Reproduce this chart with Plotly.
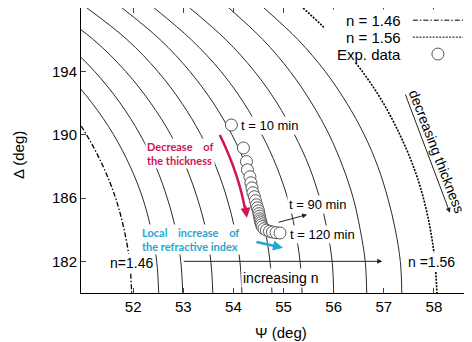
import plotly.graph_objects as go

# ---- data ----
delta_levels = [198, 196, 194, 192, 190, 188, 186, 184, 182, 180]

# iso curves (solid), Psi values at the Delta levels above
psi_c1 = [48.85, 49.90, 50.63, 51.18, 51.61, 51.94, 52.19, 52.36, 52.47, 52.51]
psi_c2 = [49.68, 50.57, 51.23, 51.74, 52.14, 52.45, 52.68, 52.85, 52.95, 52.99]
psi_c3 = [50.35, 51.21, 51.85, 52.35, 52.75, 53.05, 53.28, 53.45, 53.55, 53.59]
psi_c4 = [51.08, 51.88, 52.49, 52.97, 53.35, 53.65, 53.87, 54.03, 54.13, 54.17]
psi_c5 = [51.78, 52.54, 53.13, 53.60, 53.97, 54.26, 54.48, 54.63, 54.73, 54.77]
psi_c6 = [52.42, 53.16, 53.75, 54.21, 54.57, 54.86, 55.08, 55.23, 55.33, 55.37]
psi_c7 = [53.13, 53.85, 54.42, 54.87, 55.22, 55.51, 55.72, 55.87, 55.97, 56.00]
psi_c8 = [53.91, 54.59, 55.13, 55.56, 55.91, 56.18, 56.39, 56.53, 56.63, 56.66]
psi_c9 = [54.61, 55.29, 55.83, 56.26, 56.61, 56.88, 57.08, 57.23, 57.33, 57.36]
solid_curves = [psi_c1, psi_c2, psi_c3, psi_c4, psi_c5, psi_c6, psi_c7, psi_c8, psi_c9]

# n = 1.46 and n = 1.56 curves
psi_n146 = [48.35, 49.37, 50.10, 50.65, 51.07, 51.40, 51.65, 51.82, 51.93, 51.97]
psi_n156 = [55.39, 56.05, 56.57, 56.99, 57.32, 57.59, 57.79, 57.93, 58.02, 58.06]

# experimental data (t = 10 ... 120 min)
psi_exp = [53.96, 54.20, 54.26, 54.28, 54.33, 54.35, 54.37, 54.39, 54.42, 54.44,
           54.46, 54.48, 54.50, 54.51, 54.52, 54.53, 54.54, 54.55, 54.56, 54.58,
           54.61, 54.66, 54.72, 54.78, 54.85, 54.93]
delta_exp = [190.61, 189.16, 188.30, 187.78, 187.34, 186.96, 186.64, 186.33, 186.08, 185.83,
             185.57, 185.38, 185.19, 185.01, 184.85, 184.69, 184.56, 184.44, 184.31, 184.19,
             184.06, 183.97, 183.90, 183.85, 183.81, 183.79]

x_ticks = [52, 53, 54, 55, 56, 57, 58]
y_ticks = [182, 186, 190, 194]

FONT = "Liberation Sans, Arial, sans-serif"
RED = "#cf1458"
CYAN = "#1fa8d2"

fig = go.Figure()
for c in solid_curves:
    fig.add_trace(go.Scatter(x=c, y=delta_levels, mode="lines",
                             line=dict(color="#2a2a2a", width=1, shape="spline"),
                             showlegend=False, hoverinfo="skip"))
fig.add_trace(go.Scatter(x=psi_n146, y=delta_levels, mode="lines",
                         line=dict(color="black", width=1.3, dash="5px,2px,1.5px,2px", shape="spline"),
                         showlegend=False))
fig.add_trace(go.Scatter(x=psi_n156, y=delta_levels, mode="lines",
                         line=dict(color="black", width=1.6, dash="2px,1.3px", shape="spline"),
                         showlegend=False))
fig.add_trace(go.Scatter(x=psi_exp, y=delta_exp, mode="markers",
                         marker=dict(symbol="circle", size=12, color="white",
                                     line=dict(color="#555555", width=1)),
                         showlegend=False))

shapes = []
# legend box
shapes.append(dict(type="rect", xref="x", yref="y", x0=55.81, x1=59.2, y0=194.58, y1=197.9,
                   fillcolor="white", line=dict(width=0), layer="above"))
shapes.append(dict(type="line", xref="x", yref="y", x0=57.58, x1=58.58, y0=197.23, y1=197.23,
                   line=dict(color="black", width=1, dash="5px,2px,1.5px,2px"), layer="above"))
shapes.append(dict(type="line", xref="x", yref="y", x0=57.58, x1=58.58, y0=196.16, y1=196.16,
                   line=dict(color="black", width=1, dash="2px,1.3px"), layer="above"))
shapes.append(dict(type="circle", xref="x", yref="y", xsizemode="pixel", ysizemode="pixel",
                   xanchor=58.08, yanchor=195.09, x0=-6, x1=6, y0=-6, y1=6,
                   fillcolor="white", line=dict(color="#555555", width=1), layer="above"))
# red curved arrow body
shapes.append(dict(type="path", xref="x", yref="y",
                   path="M 53.73,189.98 Q 54.14,187.30 54.25,184.95",
                   line=dict(color=RED, width=2.5), layer="above"))

ann = []
def txt(x, y, s, size=13, color="black", angle=0, family=FONT, bg="white", xanchor="center", align="center"):
    ann.append(dict(x=x, y=y, xref="x", yref="y", text=s, showarrow=False,
                    font=dict(family=family, size=size, color=color), textangle=angle,
                    bgcolor=bg, borderpad=1, xanchor=xanchor, yanchor="middle", align=align))

txt(54.73, 190.61, "t = 10 min", 13)
txt(55.68, 185.57, "t = 90 min", 13)
txt(55.77, 183.68, "t = 120 min", 13)
txt(54.94, 180.97, "increasing n", 14)
txt(51.96, 181.90, "n=1.46", 14)
txt(57.95, 181.98, "n =1.56", 14)
txt(58.06, 188.91, "decreasing thickness", 14, angle=69, bg="rgba(0,0,0,0)")
txt(52.94, 188.79, "<b>Decrease\u00a0\u00a0\u00a0\u00a0of<br>the thickness</b>", 11, RED, family="Lato", align="left")
txt(53.14, 183.40, "<b>Local\u00a0\u00a0\u00a0\u00a0increase\u00a0\u00a0\u00a0\u00a0of<br>the refractive index</b>", 11, CYAN, family="Lato", align="left")
# legend texts
for yy, s in [(197.23, "n = 1.46"), (196.16, "n = 1.56"), (195.09, "Exp. data")]:
    ann.append(dict(x=57.38, y=yy, xref="x", yref="y", text=s, showarrow=False,
                    xanchor="right", yanchor="middle", font=dict(family=FONT, size=15, color="black")))

def arrow(x0, y0, x1, y1, color="#222222", width=1, head=2, size=1):
    ann.append(dict(x=x1, y=y1, ax=x0, ay=y0, xref="x", yref="y", axref="x", ayref="y",
                    text="", showarrow=True, arrowhead=head, arrowsize=size,
                    arrowwidth=width, arrowcolor=color))

arrow(52.98, 182.0, 56.97, 182.0)
arrow(57.42, 192.63, 58.32, 185.07)
arrow(54.87, 184.44, 55.47, 184.95)
arrow(54.43, 183.24, 54.99, 182.86, CYAN, 2.5, 2, 0.8)
arrow(54.23, 185.6, 54.27, 184.75, RED, 2.5, 2, 0.8)

# axis titles
ann.append(dict(x=0.5115, y=-0.140, xref="paper", yref="paper", text="\u03a8 (deg)", showarrow=False,
                xanchor="center", yanchor="middle", font=dict(family=FONT, size=15, color="black")))
ann.append(dict(x=-0.161, y=0.484, xref="paper", yref="paper", text="\u0394 (deg)", showarrow=False,
                xanchor="center", yanchor="middle", textangle=-90,
                font=dict(family=FONT, size=15, color="black")))

fig.update_layout(
    width=472, height=342,
    margin=dict(l=73, r=8, t=0, b=57),
    paper_bgcolor="white", plot_bgcolor="white",
    shapes=shapes, annotations=ann, showlegend=False,
    xaxis=dict(range=[50.96, 58.76], tickvals=x_ticks, ticks="inside", ticklen=5,
               showline=True, linecolor="black", linewidth=1, mirror="ticks",
               showgrid=False, zeroline=False, tickfont=dict(family=FONT, size=15, color="black")),
    yaxis=dict(range=[180.0, 198.0], tickvals=y_ticks, ticks="inside", ticklen=5,
               showline=True, linecolor="black", linewidth=1, mirror=False,
               showgrid=False, zeroline=False, tickfont=dict(family=FONT, size=15, color="black")),
)
fig.write_html("out.html")
